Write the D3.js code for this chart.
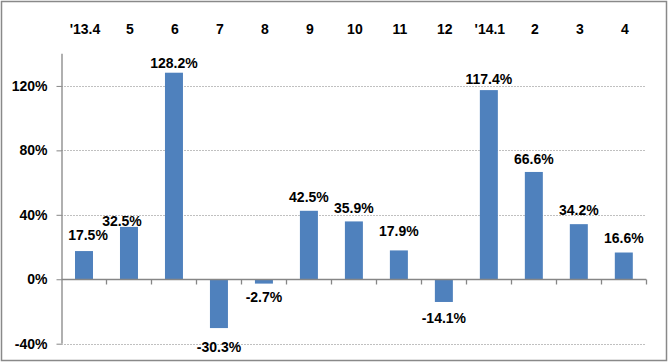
<!DOCTYPE html>
<html>
<head>
<meta charset="utf-8">
<script src="https://cdn.jsdelivr.net/npm/d3@7/dist/d3.min.js"></script>
<style>
    html, body { margin: 0; padding: 0; background: #fff; }
    svg { display: block; font-family: "Liberation Sans", Arial, sans-serif; }
</style>
</head>
<body>
<div id="chart"></div>
<script>
// Month-over-month change, '13.4 – '14.4
const months = ["'13.4", '5', '6', '7', '8', '9', '10', '11', '12', "'14.1", '2', '3', '4'];
const changes = [17.5, 32.5, 128.2, -30.3, -2.7, 42.5, 35.9, 17.9, -14.1, 117.4, 66.6, 34.2, 16.6];
const yTicks = [-40, 0, 40, 80, 120];

// hand-dragged label offsets (px) relative to default spot
const labelNudge = [[4, -3], [-7, 7], [0, 3], [0, 5], [0, -1], [0, -1], [0, 0], [0, -6], [0, 2], [0, 2], [0, 0], [0, -1], [0, -2]];

const W = 669, H = 363;
const margin = { left: 61.5, right: 22.7, top: 53.7, bottom: 19.3 };

const svg = d3.select('#chart')
    .append('svg')
    .attr('width', W)
    .attr('height', H);

// outer frame
svg.append('rect')
    .attr('x', 1.5).attr('y', 1.5)
    .attr('width', W - 4).attr('height', H - 4)
    .attr('fill', 'none')
    .attr('stroke', '#898989')
    .attr('stroke-width', 1.5);

const x = d3.scaleBand()
    .domain(months)
    .range([margin.left, W - margin.right])
    .paddingInner(0.6)
    .paddingOuter(0.3);

const y = d3.scaleLinear()
    .domain([-40, 140])
    .range([H - margin.bottom, margin.top]);

// dotted gridlines
svg.append('g')
    .selectAll('line')
    .data(yTicks.filter(d => d !== 0))
    .join('line')
    .attr('x1', margin.left)
    .attr('x2', W - margin.right)
    .attr('y1', d => Math.round(y(d)) + 0.5)
    .attr('y2', d => Math.round(y(d)) + 0.5)
    .attr('stroke', '#808080')
    .attr('stroke-width', 1)
    .attr('stroke-dasharray', '1,2');

// bars
svg.append('g')
    .selectAll('rect')
    .data(changes)
    .join('rect')
    .attr('x', (d, i) => x(months[i]))
    .attr('width', x.bandwidth())
    .attr('y', d => y(Math.max(0, d)))
    .attr('height', d => Math.abs(y(d) - y(0)))
    .attr('fill', '#4F81BD');

// y axis
const yAxis = svg.append('g')
    .attr('transform', `translate(${margin.left},0)`)
    .call(d3.axisLeft(y)
        .tickValues(yTicks)
        .tickSize(5)
        .tickPadding(9)
        .tickFormat(d => `${d}%`));
yAxis.select('.domain').attr('stroke', '#868686').attr('stroke-width', 1.3).attr('d', `M0.5,${y(140)}V${y(-40)}`);
yAxis.selectAll('.tick line').attr('stroke', '#868686');
yAxis.selectAll('text')
    .style('font-size', '14px')
    .style('font-weight', 'bold')
    .attr('fill', '#000');

// category axis on the zero line, ticks between bands
const zeroY = Math.round(y(0)) + 0.5;
const boundaries = months.map(m => x(m) - x.step() * x.paddingInner() / 2 + x.step()).concat([]);
const xAxis = svg.append('g');
xAxis.append('line')
    .attr('x1', margin.left).attr('x2', W - margin.right)
    .attr('y1', zeroY).attr('y2', zeroY)
    .attr('stroke', '#868686')
    .attr('stroke-width', 1.3);
xAxis.selectAll('line.tick')
    .data(d3.range(1, months.length + 1))
    .join('line')
    .attr('class', 'tick')
    .attr('x1', i => Math.round(margin.left + i * x.step()) + 0.5)
    .attr('x2', i => Math.round(margin.left + i * x.step()) + 0.5)
    .attr('y1', zeroY)
    .attr('y2', zeroY + 5)
    .attr('stroke', '#868686')
    .attr('stroke-width', 1.3);

// month labels across the top
const topAxis = svg.append('g')
    .attr('transform', 'translate(0,34)')
    .call(d3.axisTop(x).tickSize(0).tickPadding(0));
topAxis.select('.domain').remove();
topAxis.selectAll('text')
    .style('font-size', '14px')
    .style('font-weight', 'bold')
    .attr('fill', '#000')
    .attr('dx', '1');

// value labels
svg.append('g')
    .selectAll('text')
    .data(changes)
    .join('text')
    .attr('x', (d, i) => x(months[i]) + x.bandwidth() / 2 + labelNudge[i][0])
    .attr('y', (d, i) => (d >= 0 ? y(d) - 8 : y(d) + 19) + labelNudge[i][1])
    .attr('text-anchor', 'middle')
    .style('font-size', '14px')
    .style('font-weight', 'bold')
    .attr('fill', '#000')
    .text(d => `${d.toFixed(1)}%`);
</script>
</body>
</html>
